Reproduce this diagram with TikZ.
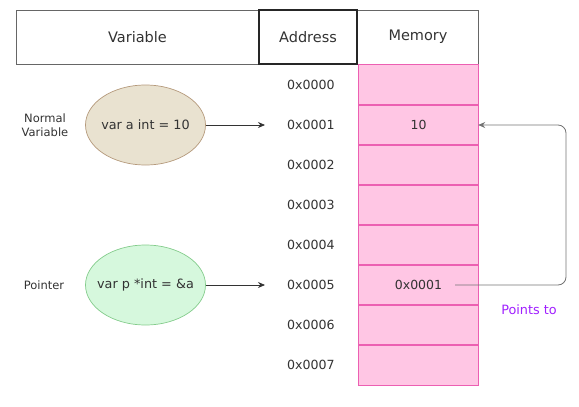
\documentclass[tikz,border=0pt]{standalone}
\usepackage{fontspec}
\setmainfont{DejaVu Sans}
\usetikzlibrary{arrows.meta,shapes.geometric}
\definecolor{memfill}{HTML}{FFC6E4}
\definecolor{memline}{HTML}{EC5FB2}
\definecolor{ellAfill}{HTML}{E9E2D0}
\definecolor{ellAline}{HTML}{B59A7C}
\definecolor{ellBfill}{HTML}{D6F8DD}
\definecolor{ellBline}{HTML}{84CC8C}
\definecolor{txt}{HTML}{333333}
\definecolor{purp}{HTML}{A020FF}
\definecolor{hdrline}{HTML}{666666}
\begin{document}
\begin{tikzpicture}[x=1pt,y=-1pt,
  every node/.style={text=txt, inner sep=0pt},
  every label/.style={text=txt, inner sep=0pt},
  hdr/.style={draw=hdrline, line width=0.9pt, minimum height=54pt, font=\fontsize{14.5}{16}\selectfont},
  memcell/.style={fill=memfill, minimum width=119pt, minimum height=40pt, font=\fontsize{12.5}{14}\selectfont},
  memrule/.style={draw=memline, line width=1.2pt},
  addr/.style={font=\fontsize{12.6}{14}\selectfont},
  ell/.style={ellipse, minimum width=120pt, minimum height=80pt, line width=0.7pt},
  elltext/.style={font=\fontsize{12.8}{14}\selectfont},
  side/.style={font=\fontsize{11.5}{13.5}\selectfont, align=center},
  conn/.style={draw=txt, line width=0.8pt, -{Stealth[length=7pt,width=6pt]}}
]
\useasboundingbox (0,0) rectangle (579,407);
% header
\node[hdr, minimum width=243pt] (hvar) at (137.5,37) {Variable};
\node[hdr, minimum width=121pt] (hmem) at (418,37) {Memory};
\node[hdr, draw=black!85, line width=1.3pt, minimum width=98pt] (haddr) at (308,37) {Address};
% memory cells and addresses
\foreach \i/\t in {0/,1/10,2/,3/,4/,5/0x0001,6/,7/} {
  \node[memcell] (m\i) at (418.5,{85+40*\i}) {\t};
  \node[addr] (a\i) at (311,{85+40*\i}) {0x000\i};
}
\foreach \i in {0,...,7} {
  \draw[memrule] (m\i.north west) rectangle (m\i.south east);
}
% ellipses
\node[ell, draw=ellAline, fill=ellAfill, label={[elltext]center:var a int = 10}] (ea) at (145.5,125) {};
\node[ell, draw=ellBline, fill=ellBfill, label={[elltext]center:var p *int = \&a}] (eb) at (145.5,285) {};
\node[side] (lnv) at (45,125) {Normal\\Variable};
\node[side] (lptr) at (44,285) {Pointer};
% arrows
\coordinate (ta) at (265,125);
\coordinate (tb) at (265,285);
\draw[conn] (ea.east) -- (ta);
\draw[conn] (eb.east) -- (tb);
% points-to connector
\coordinate (ps) at (455,285);
\draw[conn, draw=black!55, rounded corners=8pt] (ps) -- (566,285) -- (566,125) -- (m1.east);
\node[font=\fontsize{12.8}{14}\selectfont, text=purp] (pt) at (529,310) {Points to};
\end{tikzpicture}
\end{document}
